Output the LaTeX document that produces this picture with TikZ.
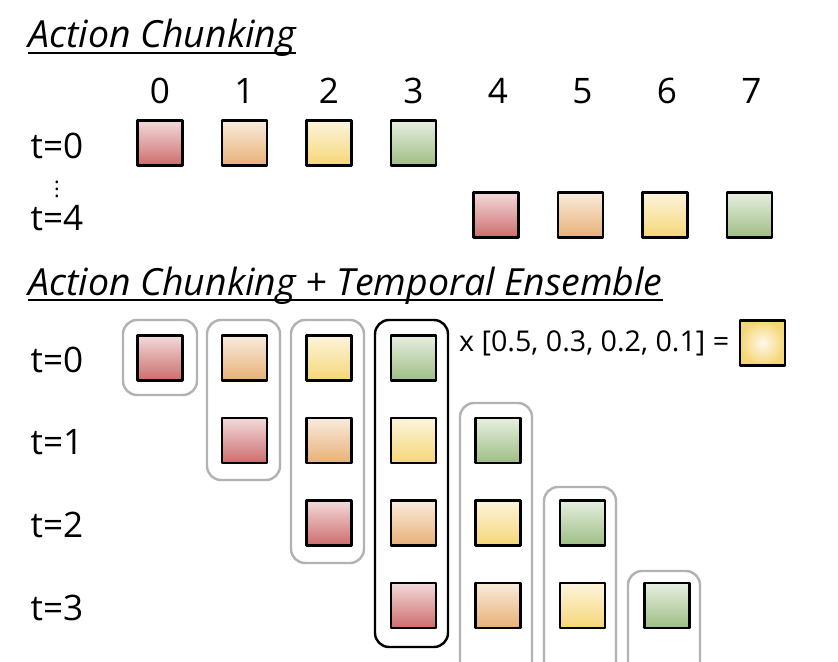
\documentclass[tikz,border=0pt]{standalone}
\usepackage{fontspec}
\setmainfont{Open Sans}
\usetikzlibrary{positioning,calc}

\definecolor{actred}{RGB}{205,108,108}
\definecolor{actorange}{RGB}{232,176,118}
\definecolor{actyellow}{RGB}{245,214,118}
\definecolor{actgreen}{RGB}{158,190,132}

\begin{document}
\begin{tikzpicture}[x=0.02cm, y=-0.02cm, line join=round]
    % Define styles
    \tikzset{
        act/.style={rectangle, minimum size=0.9cm, draw=black, line width=1.4pt, top color=#1!25, bottom color=#1},
        grp/.style={rounded corners=8pt, draw=black!30, line width=1.4pt},
        chosen/.style={rounded corners=8pt, draw=black, line width=1.4pt},
        title/.style={anchor=base west, inner xsep=0pt, font=\fontsize{21.3}{25}\selectfont\itshape},
        lbl/.style={font=\fontsize{20}{24}\selectfont},
    }
    \useasboundingbox (0,0) rectangle (838,662);
    \clip (0,0) rectangle (838,662);

    % Action Chunking
    \node [title] (title1) at (28,48) {Action Chunking};
    \draw [line width=1pt] ($(title1.base west)+(0,5)$) -- ($(title1.base east)+(0,5)$);
    \foreach \i in {0,...,7}
        \node [lbl] (num\i) at ({160+84.5*\i},91) {\i};
    \node [lbl] (ta) at (57,146) {t=0};
    \node [lbl] (tb) at (57,218) {t=4};
    \node [inner sep=0pt, font=\fontsize{12}{12}\selectfont] (dots) at (57,184) {$\vdots$};
    \foreach \c [count=\i from 0] in {actred,actorange,actyellow,actgreen} {
        \node [act=\c] (a\i) at ({160+84.5*\i},143) {};
        \node [act=\c] (b\i) at ({496+84.5*\i},215) {};
    }

    % Action Chunking + Temporal Ensemble
    \node [title] (title2) at (28,295) {Action Chunking + Temporal Ensemble};
    \draw [line width=1pt] ($(title2.base west)+(0,5)$) -- ($(title2.base east)+(0,5)$);
    \foreach \r in {0,...,3} {
        \node [lbl] (t\r) at (57,{360+82.5*\r}) {t=\r};
        \foreach \c [count=\i from 0] in {actred,actorange,actyellow,actgreen}
            \node [act=\c] (s\r\i) at ({160+84.5*(\r+\i)},{358+82.5*\r}) {};
    }

    % column groups
    \draw [grp] (123,320) rectangle (197,395);
    \draw [grp] (207,320) rectangle (280,480);
    \draw [grp] (291,320) rectangle (364,563);
    \draw [chosen] (375,320) rectangle (448,647);
    \draw [grp] (460,403) rectangle (532,700);
    \draw [grp] (544,487) rectangle (616,700);
    \draw [grp] (628,571) rectangle (700,700);

    % ensemble result
    \node [font=\fontsize{16.3}{19}\selectfont, anchor=west] (weights) at (453,343) {x [0.5, 0.3, 0.2, 0.1] =};
    \node [rectangle, minimum size=0.9cm, draw=black, line width=1.4pt, inner color=actyellow!15, outer color=actyellow, right=2pt of weights] (result) {};
\end{tikzpicture}
\end{document}
